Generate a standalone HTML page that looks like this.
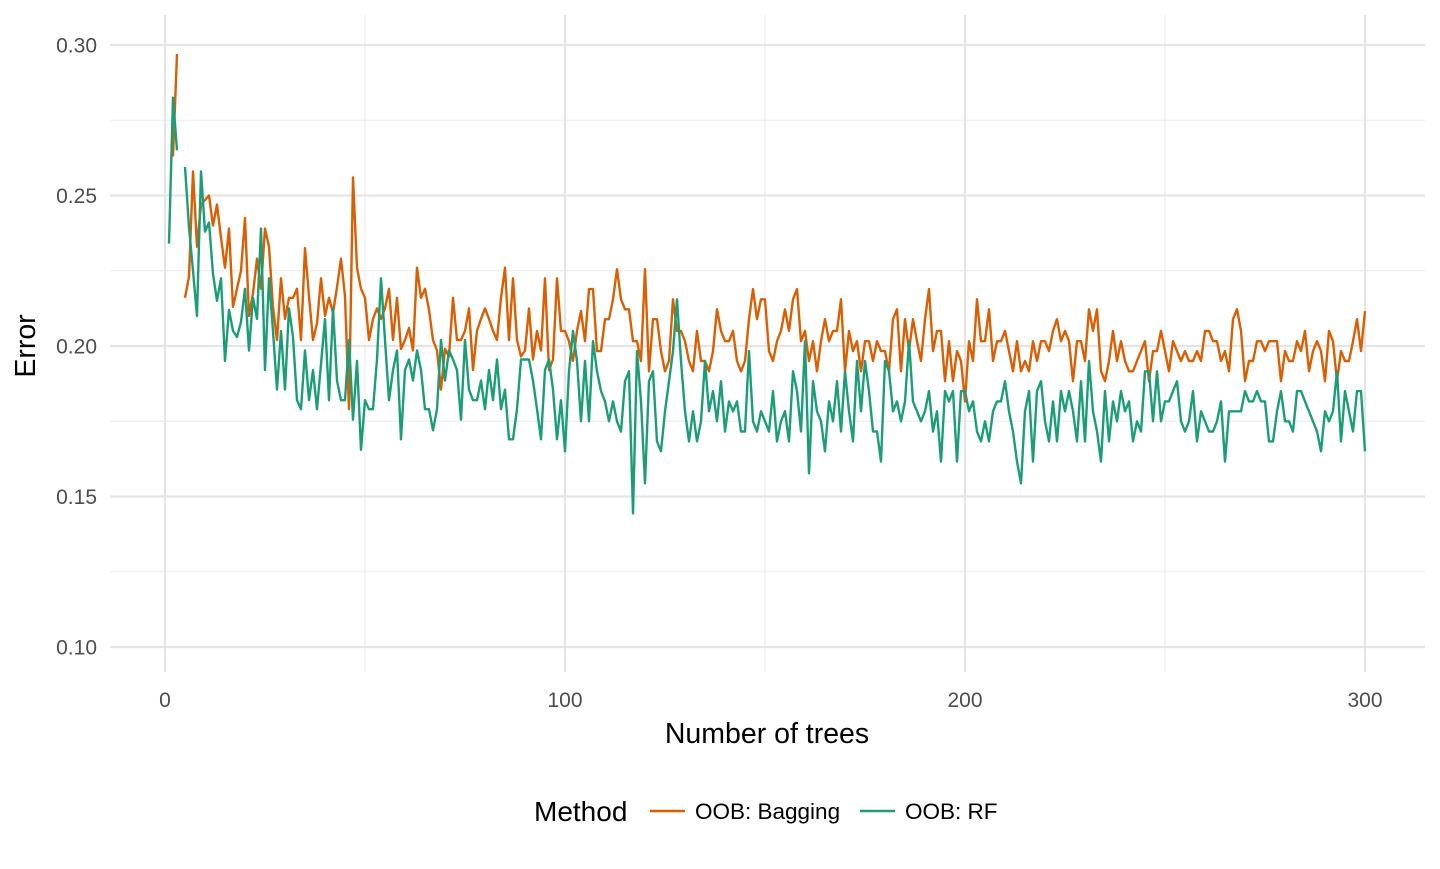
<!DOCTYPE html>
<html><head><meta charset="utf-8"><style>
html,body{margin:0;padding:0;background:#fff;}
svg text{font-family:"Liberation Sans",Arial,sans-serif;}
</style></head><body>
<svg id="chart" width="1440" height="864" viewBox="0 0 1440 864" xmlns="http://www.w3.org/2000/svg">
<g id="grid"></g>
<g id="series"></g>
<g id="axes"></g>
<text x="767" y="743" font-size="28.5" text-anchor="middle" fill="#000">Number of trees</text>
<text x="35" y="346" font-size="28.5" text-anchor="middle" fill="#000" transform="rotate(-90 35 346)">Error</text>
<g>
<text x="534" y="821" font-size="28" fill="#000">Method</text>
<line x1="650" y1="811" x2="685" y2="811" stroke="#d95f02" stroke-width="2.6"/>
<text x="695" y="819" font-size="22.5" fill="#000">OOB: Bagging</text>
<line x1="860" y1="811" x2="895" y2="811" stroke="#1b9e77" stroke-width="2.6"/>
<text x="905" y="819" font-size="22.5" fill="#000">OOB: RF</text>
</g>
</svg>
<script>
const bagging = [null,0.263,0.297,null,0.216,0.223,0.258,0.233,0.247,0.2485,0.25,0.240,0.247,0.236,0.226,0.239,0.213,0.219,0.225,0.2425,0.210,0.2175,0.229,0.219,0.239,0.233,0.213,0.202,0.2225,0.209,0.216,0.216,0.219,0.202,0.2325,0.2165,0.202,0.2075,0.2225,0.21,0.216,0.211,0.2195,0.229,0.2165,0.179,0.256,0.226,0.219,0.216,0.202,
0.209,0.2125,0.209,0.2125,0.219,0.202,0.216,0.199,0.202,0.206,0.1985,0.226,0.216,0.219,0.212,0.202,0.1985,0.1855,0.199,0.1965,0.216,0.202,0.202,0.205,0.2125,0.192,0.205,0.209,0.2125,0.209,0.205,0.202,0.216,0.226,0.202,0.2225,0.202,0.1965,0.1985,0.2125,0.1955,0.205,0.1985,0.2225,0.192,0.1955,0.2225,0.205,
0.2050,0.2016,0.1950,0.2050,0.2116,0.2016,0.2189,0.2189,0.1983,0.1983,0.2089,0.2089,0.2155,0.2255,0.2155,0.2122,0.2122,0.2016,0.2016,0.1950,0.2255,0.1916,0.2089,0.2089,0.1983,0.1916,0.1950,0.2155,0.2050,0.2050,0.2016,0.1950,0.1916,0.2050,0.1950,0.1950,0.1916,0.1983,0.2122,0.2050,0.2016,0.2016,0.2050,0.1950,0.1916,0.1950,0.2089,0.2189,0.2089,0.2155,0.2155,0.1983,
0.1950,0.2016,0.2050,0.2122,0.2050,0.2155,0.2189,0.2016,0.2050,0.1950,0.2016,0.1916,0.2016,0.2089,0.2016,0.2050,0.2050,0.2155,0.1916,0.2050,0.1983,0.2016,0.1916,0.2016,0.2016,0.1950,0.2016,0.1983,0.1983,0.1916,0.2089,0.2122,0.1916,0.2089,0.1983,0.2089,0.2016,0.1950,0.2089,0.2189,0.1983,0.2050,0.2050,0.1883,0.2016,0.1883,0.1983,0.1950,0.1816,0.2016,
0.1950,0.2155,0.2016,0.2016,0.2122,0.1950,0.2016,0.2016,0.2050,0.1983,0.1916,0.2016,0.1916,0.1950,0.1916,0.2016,0.1950,0.2016,0.2016,0.1983,0.2050,0.2089,0.2016,0.2050,0.2016,0.1883,0.2016,0.2016,0.1950,0.2122,0.2050,0.2122,0.1916,0.1883,0.1950,0.2050,0.1950,0.2016,0.1950,0.1916,0.1916,0.1950,0.1983,0.2016,0.1883,0.1983,0.1983,0.2050,0.1983,0.1916,
0.2016,0.1983,0.1950,0.1983,0.1950,0.1950,0.1983,0.1950,0.2050,0.2050,0.2016,0.2016,0.1950,0.1983,0.1916,0.2089,0.2122,0.2050,0.1883,0.1950,0.1950,0.2016,0.2016,0.1983,0.2016,0.2016,0.2016,0.1883,0.1983,0.1950,0.1950,0.2016,0.1983,0.2050,0.1916,0.1983,0.2016,0.1983,0.1883,0.2050,0.2016,0.1883,0.1983,0.1950,0.1950,0.2016,0.2089,0.1983,0.2116];
const rf = [0.234,0.2825,0.265,null,0.2595,0.2395,0.225,0.21,0.258,0.238,0.241,0.224,0.215,0.2225,0.195,0.212,0.205,0.203,0.208,0.219,0.1985,0.216,0.209,0.239,0.192,0.2225,0.205,0.1855,0.205,0.1855,0.2125,0.203,0.182,0.179,0.1985,0.182,0.192,0.179,0.194,0.209,0.182,0.2125,0.1885,0.182,0.182,0.202,0.1755,0.195,0.1655,0.182,0.179,
0.179,0.1955,0.2225,0.202,0.182,0.192,0.1985,0.169,0.192,0.1955,0.1885,0.1985,0.192,0.179,0.179,0.172,0.179,0.202,0.1885,0.1985,0.1955,0.192,0.1755,0.202,0.1855,0.182,0.182,0.1885,0.179,0.192,0.182,0.1955,0.179,0.1855,0.169,0.169,0.179,0.1955,0.1955,0.1955,0.1885,0.179,0.169,0.192,0.1955,0.1855,0.169,0.182,
0.1650,0.1916,0.2050,0.1950,0.1750,0.1950,0.1750,0.2016,0.1916,0.1850,0.1816,0.1750,0.1816,0.1750,0.1716,0.1883,0.1916,0.1444,0.1983,0.1816,0.1544,0.1883,0.1916,0.1683,0.1650,0.1783,0.1883,0.1983,0.2155,0.1950,0.1783,0.1683,0.1783,0.1683,0.1750,0.1950,0.1783,0.1850,0.1750,0.1883,0.1716,0.1816,0.1783,0.1816,0.1716,0.1716,0.1983,0.1750,0.1716,0.1783,0.1750,0.1716,
0.1850,0.1683,0.1750,0.1783,0.1683,0.1916,0.1850,0.1716,0.2016,0.1577,0.1883,0.1783,0.1750,0.1650,0.1816,0.1750,0.1883,0.1716,0.1916,0.1783,0.1683,0.1950,0.1783,0.1950,0.1850,0.1716,0.1716,0.1616,0.1950,0.1916,0.1783,0.1816,0.1750,0.1816,0.2016,0.1816,0.1783,0.1750,0.1783,0.1850,0.1716,0.1783,0.1616,0.1850,0.1816,0.1850,0.1616,0.1850,0.1850,0.1783,
0.1816,0.1716,0.1683,0.1750,0.1683,0.1783,0.1816,0.1816,0.1883,0.1783,0.1716,0.1616,0.1544,0.1783,0.1850,0.1616,0.1850,0.1883,0.1750,0.1683,0.1816,0.1683,0.1850,0.1783,0.1850,0.1783,0.1683,0.1883,0.1683,0.1950,0.1783,0.1716,0.1616,0.1850,0.1683,0.1816,0.1750,0.1850,0.1783,0.1816,0.1683,0.1750,0.1716,0.1916,0.1916,0.1750,0.1916,0.1750,0.1816,0.1816,
0.1850,0.1883,0.1750,0.1716,0.1750,0.1850,0.1683,0.1783,0.1750,0.1716,0.1716,0.1750,0.1816,0.1616,0.1783,0.1783,0.1783,0.1783,0.1850,0.1816,0.1816,0.1850,0.1816,0.1816,0.1683,0.1683,0.1783,0.1850,0.1750,0.1750,0.1716,0.1850,0.1850,0.1816,0.1783,0.1750,0.1716,0.1650,0.1783,0.1750,0.1783,0.1916,0.1683,0.1850,0.1783,0.1716,0.1850,0.1850,0.1650];
const yTicks = [0.10,0.15,0.20,0.25,0.30];
const yTickLabels = ["0.10","0.15","0.20","0.25","0.30"];
const xTicks = [0,100,200,300];
const xTickLabels = ["0","100","200","300"];

const NS = "http://www.w3.org/2000/svg";
const X0 = 110, X1 = 1425, Y0 = 15, Y1 = 672;
function xs(t){ return 165 + (t/300)*1200; }
function ys(v){ return 45 + (0.30 - v)/0.20*602; }
function mk(tag, attrs, parent){ const e=document.createElementNS(NS,tag); for(const k in attrs) e.setAttribute(k,attrs[k]); parent.appendChild(e); return e; }

const grid = document.getElementById('grid');
for (let i=0;i<yTicks.length-1;i++){
  const m=(yTicks[i]+yTicks[i+1])/2;
  const l=mk('line',{x1:X0,x2:X1,y1:ys(m),y2:ys(m),stroke:'#ebebeb','stroke-width':1.1},grid);
  
  
}
for (let i=0;i<xTicks.length-1;i++){
  const m=(xTicks[i]+xTicks[i+1])/2;
  const l=mk('line',{x1:xs(m),x2:xs(m),y1:Y0,y2:Y1,stroke:'#ebebeb','stroke-width':1.1},grid);
  
  
}
yTicks.forEach(v=>{
  const l=mk('line',{x1:X0,x2:X1,y1:ys(v),y2:ys(v),stroke:'#e5e5e5','stroke-width':2.2},grid);
  
  
});
xTicks.forEach(t=>{
  const l=mk('line',{x1:xs(t),x2:xs(t),y1:Y0,y2:Y1,stroke:'#e5e5e5','stroke-width':2.2},grid);
  
  
});

const axes = document.getElementById('axes');
yTicks.forEach((v,i)=>{
  const t=mk('text',{x:97,y:ys(v)+7.5,'font-size':21,'text-anchor':'end',fill:'#4d4d4d'},axes);
  t.textContent=yTickLabels[i];
  
  
});
xTicks.forEach((v,i)=>{
  const t=mk('text',{x:xs(v),y:707,'font-size':21,'text-anchor':'middle',fill:'#4d4d4d'},axes);
  t.textContent=xTickLabels[i];
  
  
});

function pathFor(arr){
  let d='', pen=false;
  arr.forEach((v,i)=>{
    if(v==null){pen=false;return;}
    d += (pen?'L':'M') + xs(i+1).toFixed(1) + ' ' + ys(v).toFixed(1) + ' ';
    pen=true;
  });
  return d;
}
const series = document.getElementById('series');
const pb = mk('path',{d:pathFor(bagging),fill:'none',stroke:'#d95f02','stroke-width':2.4,'stroke-linejoin':'round'},series);


const pr = mk('path',{d:pathFor(rf),fill:'none',stroke:'#1b9e77','stroke-width':2.4,'stroke-linejoin':'round'},series);


</script>
</body></html>
